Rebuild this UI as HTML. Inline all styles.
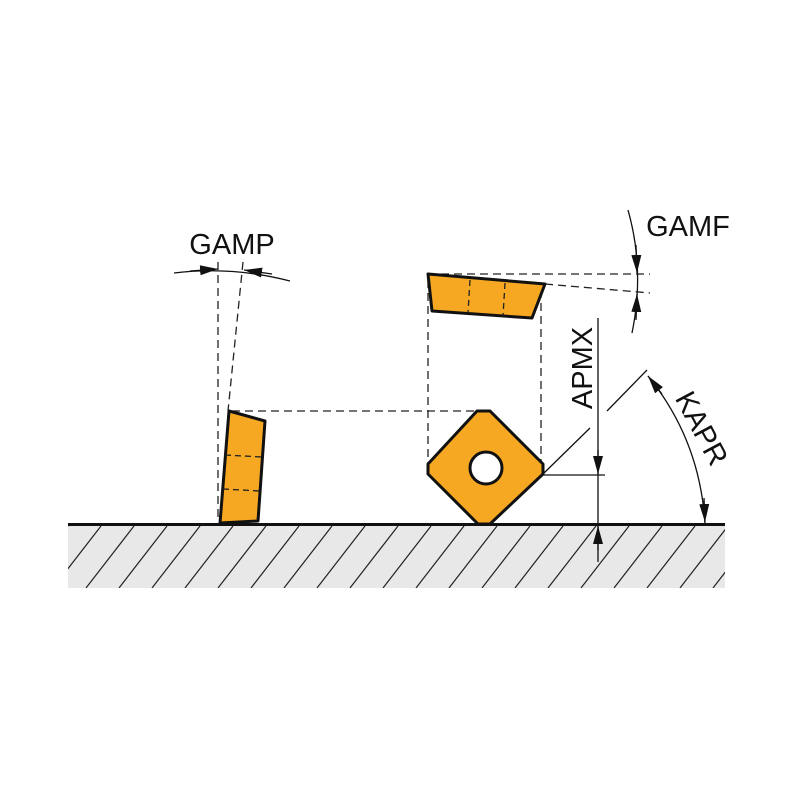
<!DOCTYPE html>
<html><head><style>body{margin:0;background:#fff}</style></head><body>
<svg width="800" height="800" viewBox="0 0 800 800" xmlns="http://www.w3.org/2000/svg" font-family="Liberation Sans, sans-serif">
<defs>
<clipPath id="c"><rect x="68" y="526" width="657" height="62"/></clipPath>
<marker id="a" markerWidth="18" markerHeight="10" refX="18" refY="5" orient="auto" markerUnits="userSpaceOnUse"><path d="M0,0 L18,5 L0,10z" fill="#111"/></marker>
</defs>
<rect x="68" y="526" width="657" height="62" fill="#e8e8e8"/>
<g clip-path="url(#c)" stroke="#222" stroke-width="1.2">
<path d="M20,588 L68,526 M53,588 L101,526 M86,588 L134,526 M119,588 L167,526 M152,588 L200,526 M185,588 L233,526 M218,588 L266,526 M251,588 L299,526 M284,588 L332,526 M317,588 L365,526 M350,588 L398,526 M383,588 L431,526 M416,588 L464,526 M449,588 L497,526 M482,588 L530,526 M515,588 L563,526 M548,588 L596,526 M581,588 L629,526 M614,588 L662,526 M647,588 L695,526 M680,588 L728,526 M713,588 L761,526"/>
</g>
<line x1="68" y1="524.5" x2="725" y2="524.5" stroke="#111" stroke-width="3"/>
<g fill="none" stroke="#222" stroke-width="1.3" stroke-dasharray="8,5">
<line x1="218" y1="262" x2="218" y2="520"/>
<line x1="243" y1="262" x2="228" y2="411"/>
<line x1="232" y1="411" x2="485" y2="411"/>
<line x1="428" y1="274" x2="650" y2="274"/>
<line x1="545" y1="284" x2="650" y2="293"/>
<line x1="428" y1="280" x2="428" y2="464"/>
<line x1="541" y1="290" x2="541" y2="464"/>
</g>
<polygon points="229,411 265,421 258,521 220,523" fill="#f7a823" stroke="#111" stroke-width="3" stroke-linejoin="round"/>
<g stroke="#222" stroke-width="1.3" stroke-dasharray="6,4"><line x1="225" y1="455" x2="262" y2="457"/><line x1="223" y1="489" x2="260" y2="491"/></g>
<polygon points="428,274 545,284 532,318 432,311" fill="#f7a823" stroke="#111" stroke-width="3" stroke-linejoin="round"/>
<g stroke="#222" stroke-width="1.3" stroke-dasharray="6,4"><line x1="470" y1="280" x2="468" y2="313"/><line x1="505" y1="283" x2="503" y2="316"/></g>
<polygon points="477,411 490,411 543,464 543,474 490,524 478,524 428,474 428,464" fill="#f7a823" stroke="#111" stroke-width="3" stroke-linejoin="round"/>
<circle cx="486" cy="468" r="16" fill="#fff" stroke="#111" stroke-width="3"/>
<g fill="none" stroke="#111" stroke-width="1.3">
<path d="M174,273 Q232,266 290,281"/>
<line x1="190" y1="271" x2="218" y2="269" marker-end="url(#a)"/>
<line x1="272" y1="274" x2="244" y2="270" marker-end="url(#a)"/>
<path d="M628,210 Q645,270 632,333"/>
<line x1="636" y1="245" x2="637" y2="273" marker-end="url(#a)"/>
<line x1="636" y1="320" x2="637" y2="294" marker-end="url(#a)"/>
<line x1="598" y1="318" x2="598" y2="562"/>
<line x1="598" y1="450" x2="598" y2="474" marker-end="url(#a)"/>
<line x1="598" y1="550" x2="598" y2="526" marker-end="url(#a)"/>
<line x1="543" y1="475" x2="605" y2="475"/>
<line x1="543" y1="474" x2="590" y2="428"/>
<line x1="607" y1="411" x2="647" y2="370"/>
<path d="M648,376 Q700,440 705,524"/>
<line x1="662" y1="394" x2="648" y2="376" marker-end="url(#a)"/>
<line x1="704" y1="498" x2="705" y2="522" marker-end="url(#a)"/>
</g>
<text x="232" y="254" font-size="29" text-anchor="middle" fill="#111">GAMP</text>
<text x="688" y="236" font-size="29" text-anchor="middle" fill="#111">GAMF</text>
<text transform="translate(592,368) rotate(-90)" font-size="29" text-anchor="middle" fill="#111">APMX</text>
<text transform="translate(693,433) rotate(62)" font-size="29" text-anchor="middle" fill="#111">KAPR</text>
</svg>
</body></html>
